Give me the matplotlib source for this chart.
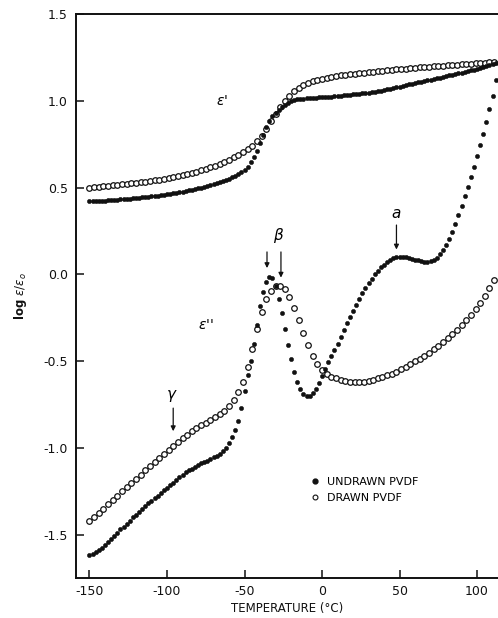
import matplotlib
matplotlib.use("Agg")
import matplotlib.pyplot as plt
from matplotlib.lines import Line2D

plt.rcParams['font.family'] = ['DejaVu Sans']
plt.rcParams['axes.unicode_minus'] = False

# ---- data ----
# Undrawn PVDF (filled dots), 2 degC steps
t_undrawn = [-150, -148, -146, -144, -142, -140, -138, -136, -134, -132, -130, -128, -126, -124, -122, -120,
             -118, -116, -114, -112, -110, -108, -106, -104, -102, -100, -98, -96, -94, -92, -90, -88, -86,
             -84, -82, -80, -78, -76, -74, -72, -70, -68, -66, -64, -62, -60, -58, -56, -54, -52, -50, -48,
             -46, -44, -42, -40, -38, -36, -34, -32, -30, -28, -26, -24, -22, -20, -18, -16, -14, -12, -10,
             -8, -6, -4, -2, 0, 2, 4, 6, 8, 10, 12, 14, 16, 18, 20, 22, 24, 26, 28, 30, 32, 34, 36, 38, 40,
             42, 44, 46, 48, 50, 52, 54, 56, 58, 60, 62, 64, 66, 68, 70, 72, 74, 76, 78, 80, 82, 84, 86, 88,
             90, 92, 94, 96, 98, 100, 102, 104, 106, 108, 110, 112]
eps1_undrawn = [0.420, 0.421, 0.422, 0.423, 0.424, 0.425, 0.426, 0.428, 0.429, 0.430, 0.432, 0.433, 0.435,
                0.436, 0.438, 0.440, 0.442, 0.444, 0.446, 0.448, 0.450, 0.452, 0.454, 0.456, 0.458, 0.461,
                0.464, 0.467, 0.470, 0.473, 0.476, 0.480, 0.484, 0.488, 0.492, 0.496, 0.500, 0.505, 0.510,
                0.515, 0.520, 0.526, 0.532, 0.538, 0.544, 0.550, 0.558, 0.566, 0.576, 0.588, 0.602, 0.620,
                0.645, 0.675, 0.710, 0.755, 0.805, 0.850, 0.885, 0.912, 0.932, 0.948, 0.962, 0.975, 0.988,
                1.000, 1.006, 1.009, 1.011, 1.013, 1.015, 1.016, 1.017, 1.018, 1.019, 1.020, 1.021, 1.022,
                1.023, 1.025, 1.027, 1.029, 1.031, 1.033, 1.035, 1.037, 1.039, 1.041, 1.043, 1.045, 1.047,
                1.050, 1.053, 1.056, 1.059, 1.062, 1.066, 1.070, 1.074, 1.078, 1.082, 1.086, 1.090, 1.094,
                1.098, 1.102, 1.106, 1.110, 1.114, 1.118, 1.122, 1.126, 1.130, 1.134, 1.138, 1.142, 1.146,
                1.150, 1.154, 1.158, 1.162, 1.166, 1.170, 1.175, 1.180, 1.185, 1.190, 1.195, 1.200, 1.205,
                1.210, 1.215]
eps2_undrawn = [-1.620, -1.610, -1.600, -1.590, -1.575, -1.560, -1.545, -1.525, -1.510, -1.490, -1.470,
                -1.455, -1.440, -1.420, -1.400, -1.385, -1.370, -1.350, -1.335, -1.320, -1.305, -1.290,
                -1.275, -1.260, -1.245, -1.230, -1.215, -1.200, -1.185, -1.170, -1.155, -1.140, -1.130,
                -1.120, -1.110, -1.100, -1.090, -1.080, -1.075, -1.065, -1.055, -1.045, -1.035, -1.020,
                -1.000, -0.970, -0.935, -0.895, -0.845, -0.770, -0.670, -0.580, -0.500, -0.400, -0.290,
                -0.180, -0.100, -0.045, -0.015, -0.020, -0.070, -0.140, -0.225, -0.315, -0.405, -0.490,
                -0.565, -0.620, -0.660, -0.690, -0.700, -0.700, -0.685, -0.660, -0.625, -0.585, -0.545,
                -0.505, -0.470, -0.435, -0.400, -0.360, -0.320, -0.280, -0.245, -0.210, -0.175, -0.140,
                -0.110, -0.080, -0.050, -0.025, 0.000, 0.020, 0.040, 0.055, 0.070, 0.082, 0.092, 0.098,
                0.100, 0.100, 0.098, 0.095, 0.090, 0.085, 0.080, 0.076, 0.073, 0.072, 0.074, 0.080, 0.095,
                0.115, 0.140, 0.170, 0.205, 0.245, 0.290, 0.340, 0.395, 0.450, 0.505, 0.560, 0.620, 0.680,
                0.745, 0.810, 0.880, 0.950, 1.025, 1.120]

# Drawn PVDF (open circles), 3 degC steps
t_drawn = [-150, -147, -144, -141, -138, -135, -132, -129, -126, -123, -120, -117, -114, -111, -108, -105,
           -102, -99, -96, -93, -90, -87, -84, -81, -78, -75, -72, -69, -66, -63, -60, -57, -54, -51, -48,
           -45, -42, -39, -36, -33, -30, -27, -24, -21, -18, -15, -12, -9, -6, -3, 0, 3, 6, 9, 12, 15, 18,
           21, 24, 27, 30, 33, 36, 39, 42, 45, 48, 51, 54, 57, 60, 63, 66, 69, 72, 75, 78, 81, 84, 87, 90,
           93, 96, 99, 102, 105, 108, 111]
eps1_drawn = [0.500, 0.502, 0.505, 0.507, 0.510, 0.512, 0.515, 0.518, 0.521, 0.524, 0.527, 0.530, 0.534,
              0.538, 0.542, 0.546, 0.550, 0.555, 0.560, 0.565, 0.571, 0.577, 0.584, 0.591, 0.599, 0.607,
              0.616, 0.625, 0.636, 0.648, 0.661, 0.675, 0.690, 0.705, 0.722, 0.742, 0.766, 0.796, 0.840,
              0.882, 0.925, 0.965, 1.000, 1.030, 1.055, 1.075, 1.092, 1.105, 1.115, 1.122, 1.128, 1.133,
              1.138, 1.142, 1.146, 1.150, 1.153, 1.156, 1.159, 1.162, 1.165, 1.168, 1.171, 1.174, 1.177,
              1.180, 1.182, 1.184, 1.186, 1.188, 1.190, 1.192, 1.194, 1.196, 1.198, 1.200, 1.202, 1.204,
              1.206, 1.208, 1.210, 1.212, 1.214, 1.216, 1.218, 1.220, 1.222, 1.224]
eps2_drawn = [-1.420, -1.400, -1.375, -1.350, -1.325, -1.300, -1.275, -1.250, -1.225, -1.200, -1.180,
              -1.155, -1.130, -1.105, -1.080, -1.060, -1.035, -1.010, -0.990, -0.965, -0.945, -0.925,
              -0.905, -0.885, -0.870, -0.855, -0.840, -0.822, -0.805, -0.785, -0.760, -0.725, -0.680,
              -0.620, -0.535, -0.430, -0.315, -0.215, -0.140, -0.095, -0.070, -0.065, -0.085, -0.130,
              -0.195, -0.265, -0.340, -0.410, -0.470, -0.515, -0.550, -0.575, -0.590, -0.600, -0.608,
              -0.614, -0.618, -0.620, -0.620, -0.618, -0.614, -0.608, -0.600, -0.592, -0.582, -0.572,
              -0.560, -0.547, -0.533, -0.518, -0.502, -0.486, -0.469, -0.451, -0.432, -0.412, -0.391,
              -0.369, -0.345, -0.320, -0.293, -0.264, -0.233, -0.200, -0.163, -0.122, -0.078, -0.030]

x_ticks = [-150, -100, -50, 0, 50, 100]
y_ticks = [1.5, 1.0, 0.5, 0.0, -0.5, -1.0, -1.5]
y_tick_labels = ["1.5", "1.0", "0.5", "0.0", "-0.5", "-1.0", "-1.5"]

# ---- figure ----
fig = plt.figure(figsize=(4.98, 6.18), dpi=100)
ax = fig.add_axes([0.1526, 0.0647, 0.8474, 0.9126])

open_kw = dict(linestyle='none', marker='o', markersize=4.0, markerfacecolor='white',
               markeredgecolor='#111111', markeredgewidth=0.9)
fill_kw = dict(linestyle='none', marker='o', markersize=3.0, markerfacecolor='#111111',
               markeredgecolor='#111111', markeredgewidth=0.4)

ax.plot(t_drawn, eps1_drawn, **open_kw)
ax.plot(t_drawn, eps2_drawn, **open_kw)
ax.plot(t_undrawn, eps1_undrawn, **fill_kw)
ax.plot(t_undrawn, eps2_undrawn, **fill_kw)

ax.set_xlim(-158.7, 113.5)
ax.set_ylim(-1.75, 1.5)

ax.spines['right'].set_visible(False)
for s in ['left', 'bottom', 'top']:
    ax.spines[s].set_linewidth(1.4)
    ax.spines[s].set_color('#111111')

ax.set_xticks(x_ticks)
ax.set_xticklabels([str(v) for v in x_ticks])
ax.set_yticks(y_ticks)
ax.set_yticklabels(y_tick_labels)
ax.tick_params(direction='in', length=6, width=1.1, labelsize=9, pad=6, colors='#111111')
ax.tick_params(axis='y', right=False)
ax.tick_params(axis='x', top=False, pad=5)

ax.set_xlabel('TEMPERATURE (°C)', fontsize=8.5, labelpad=3, color='#111111')
ax.set_ylabel(r'log $\epsilon/\epsilon_o$', fontsize=8.5, labelpad=10, color='#111111',
              fontweight='bold')

# curve labels
ax.text(-64.5, 1.0, r"$\epsilon$'", fontsize=10, ha='center', va='center')
ax.text(-75, -0.29, r"$\epsilon$''", fontsize=10, ha='center', va='center')

# relaxation markers
arrow_kw = dict(arrowstyle='-|>', color='#111111', lw=0.9, mutation_scale=7)
ax.text(-97, -0.70, r'$\gamma$', fontsize=11, ha='center', va='center')
ax.annotate('', xy=(-96, -0.92), xytext=(-96, -0.755), arrowprops=arrow_kw)
ax.text(-28, 0.225, r'$\beta$', fontsize=11, ha='center', va='center')
ax.annotate('', xy=(-35.5, 0.02), xytext=(-35.5, 0.145), arrowprops=arrow_kw)
ax.annotate('', xy=(-26.5, -0.035), xytext=(-26.5, 0.145), arrowprops=arrow_kw)
ax.text(48, 0.35, r'$a$', fontsize=11, ha='center', va='center')
ax.annotate('', xy=(48, 0.127), xytext=(48, 0.30), arrowprops=arrow_kw)

# legend
handles = [Line2D([], [], linestyle='none', marker='o', markersize=3.5, markerfacecolor='#111111',
                  markeredgecolor='#111111'),
           Line2D([], [], linestyle='none', marker='o', markersize=3.5, markerfacecolor='white',
                  markeredgecolor='#111111', markeredgewidth=0.8)]
leg = ax.legend(handles, ['UNDRAWN PVDF', 'DRAWN PVDF'], loc='upper left',
                bbox_to_anchor=(0.545, 0.187), frameon=False, fontsize=8,
                handlelength=0.8, handletextpad=0.7, labelspacing=0.55, borderaxespad=0)

fig.savefig('out.png', dpi=100)
